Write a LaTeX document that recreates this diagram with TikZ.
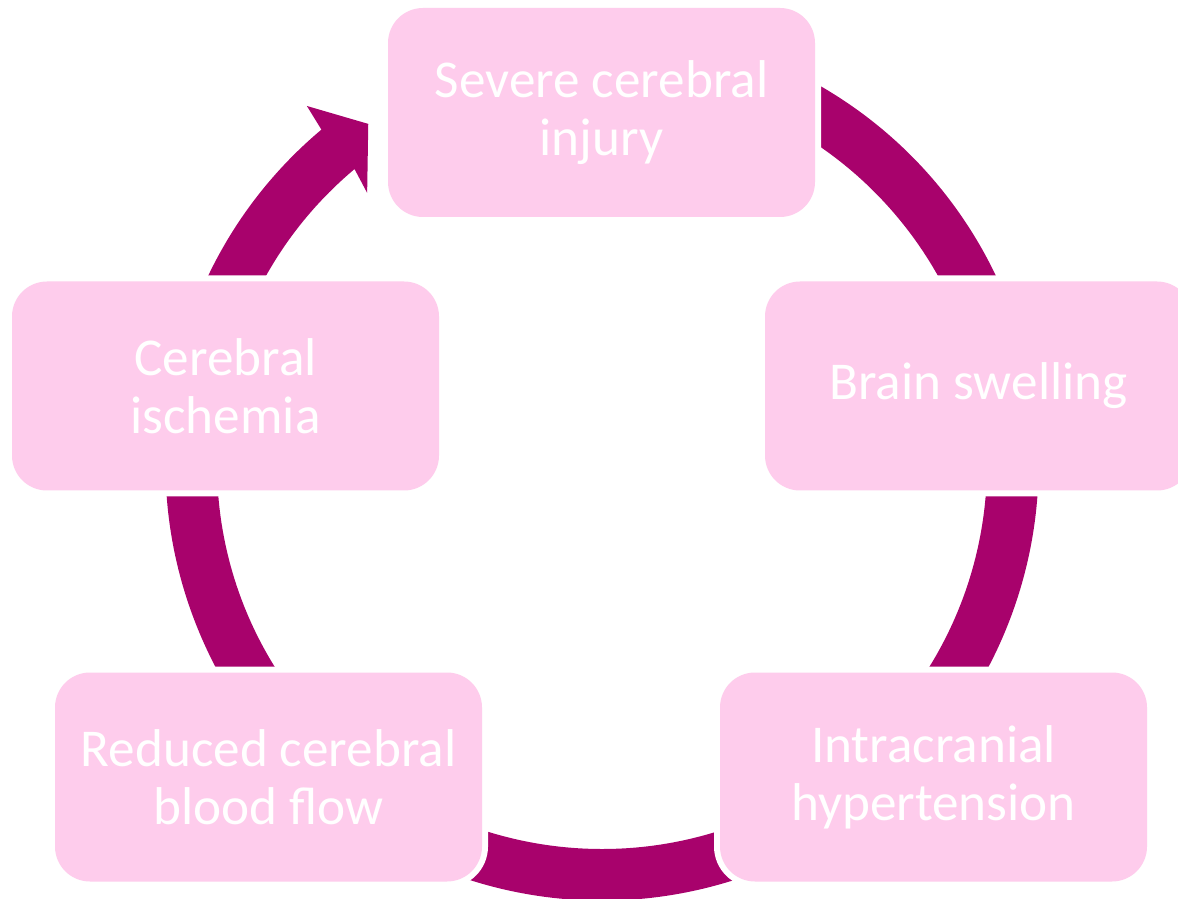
\documentclass[tikz,border=0pt]{standalone}
\usepackage{fontspec}
\setmainfont{Carlito}
\definecolor{boxpink}{RGB}{254,204,236}
\definecolor{ringmag}{RGB}{168,2,108}
\begin{document}
\begin{tikzpicture}[x=1pt,y=1pt,
  cbox/.style={rectangle, rounded corners=35pt, minimum width=427pt, minimum height=209pt,
    fill=boxpink, inner sep=0pt, text=white, align=center,
    font=\fontsize{53.2}{58}\selectfont, preaction={draw=white, line width=12pt}},
  ring/.style={fill=ringmag}]
\useasboundingbox (0,0) rectangle (1178,898);
\clip (0,0) rectangle (1178,898);
% circular arrow behind the boxes
\begin{scope}[shift={(602,434)}]
\fill[ring] (110:436.5) arc[start angle=110, end angle=-230, radius=436.5]
  -- (129.5:464) -- (124.5:412.7) -- (130.9:358.7)
  -- (-230:385) arc[start angle=-230, end angle=110, radius=385] -- cycle;
\end{scope}
% boxes
\node[cbox] (injury) at (601.5,785.5) {Severe cerebral\\injury};
\node[cbox] (swelling) at (978.5,512) {Brain swelling};
\node[cbox] (icp) at (933.5,121) {Intracranial\\hypertension};
\node[cbox] (cbf) at (268.5,121) {Reduced cerebral\\blood flow};
\node[cbox] (ischemia) at (225.5,512) {Cerebral\\ischemia};
\end{tikzpicture}
\end{document}
